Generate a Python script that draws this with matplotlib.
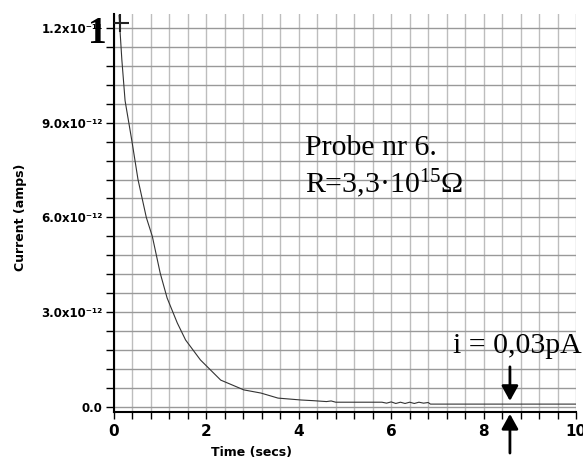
import matplotlib
matplotlib.use('Agg')
import matplotlib.pyplot as plt
import numpy as np

# discharge curve (time in s, current in pA)
time_s = [0.11, 0.17, 0.24, 0.39, 0.52, 0.70, 0.83, 1.00, 1.15, 1.37, 1.55, 1.87,
          2.31, 2.81, 3.18, 3.55, 4.05, 4.30, 4.60, 4.70, 4.80, 5.00, 5.40, 5.80,
          5.90, 6.00, 6.10, 6.20, 6.30, 6.40, 6.50, 6.60, 6.70, 6.80, 6.85, 8.00, 10.00]
current_pA = [12.4, 11.0, 9.7, 8.4, 7.2, 6.0, 5.4, 4.24, 3.45, 2.66, 2.12, 1.49,
              0.85, 0.54, 0.44, 0.28, 0.22, 0.20, 0.17, 0.19, 0.15, 0.15, 0.15, 0.15,
              0.12, 0.16, 0.11, 0.15, 0.11, 0.15, 0.11, 0.15, 0.12, 0.14, 0.09, 0.09, 0.09]

x_ticks = [0, 2, 4, 6, 8, 10]
y_ticks_pA = [0, 3, 6, 9, 12]
y_tick_labels = ['0.0', '3.0x10⁻¹²', '6.0x10⁻¹²', '9.0x10⁻¹²', '1.2x10⁻¹¹']

cursor = (0.13, 12.15)       # the "+" marker at the start of the trace
arrow_t = 8.57               # where the final current is marked
final_label = 'i = 0,03pA'

t = np.array(time_s)
i = np.array(current_pA) * 1e-12

fig = plt.figure(figsize=(5.83, 4.59), dpi=100)
ax = fig.add_axes([0.1955, 0.1024, 0.7925, 0.867])

ax.plot(t, i, color='#333333', lw=0.8, zorder=3)
ax.plot(cursor[0], cursor[1] * 1e-12, marker='+', ms=13, mew=1.5, color='#222222', zorder=4)

ax.set_xlim(0, 10)
ax.set_ylim(-0.16e-12, 12.44e-12)

ax.set_xticks(x_ticks)
ax.set_xticklabels([str(v) for v in x_ticks], fontsize=11, fontweight='bold')
ax.set_xticks(np.arange(0, 10.01, 0.4), minor=True)
ax.set_yticks([v * 1e-12 for v in y_ticks_pA])
ax.set_yticklabels(y_tick_labels, fontsize=8.5, fontweight='bold')
ax.set_yticks(np.arange(0, 12.01, 0.6) * 1e-12, minor=True)

ax.tick_params(which='both', direction='out', length=5, width=1, color='black')
ax.tick_params(axis='y', which='both', length=6, pad=2)

ax.grid(axis='x', which='both', color='#bdbdbd', lw=1.0, zorder=0)
ax.grid(axis='y', which='both', color='#999999', lw=1.0, zorder=0)
ax.set_axisbelow(True)

for s in ['top', 'right']:
    ax.spines[s].set_visible(False)
for s in ['left', 'bottom']:
    ax.spines[s].set_linewidth(1.5)

ax.set_xlabel('Time (secs)', fontsize=9, fontweight='bold')
ax.xaxis.set_label_coords(0.297, -0.085)
ax.set_ylabel('Current (amps)', fontsize=9, fontweight='bold')
ax.yaxis.set_label_coords(-0.188, 0.49)

# leftover glyph overlapping the top tick label
ax.text(-0.35, 11.52e-12, '1', family='Liberation Serif', fontweight='bold',
        fontsize=27, ha='center', va='baseline', clip_on=False)

serif = dict(family='Liberation Serif', fontsize=21.5, va='baseline')
ax.text(4.13, 7.97e-12, 'Probe nr 6.', **serif)
ax.text(4.13, 6.77e-12, r'R=3,3·10$\mathregular{^{15}}$Ω', **serif)
ax.text(7.34, 1.71e-12, final_label, **serif)

arrow = dict(arrowstyle='-|>,head_length=0.45,head_width=0.25', lw=2,
             color='black', mutation_scale=20, shrinkA=0, shrinkB=0)
ax.annotate('', xy=(arrow_t, 0.19e-12), xytext=(arrow_t, 1.27e-12), arrowprops=arrow)
ax.annotate('', xy=(arrow_t, -0.22e-12), xytext=(arrow_t, -1.46e-12),
            arrowprops=arrow, annotation_clip=False)

fig.savefig('out.png', dpi=100)
plt.close(fig)
